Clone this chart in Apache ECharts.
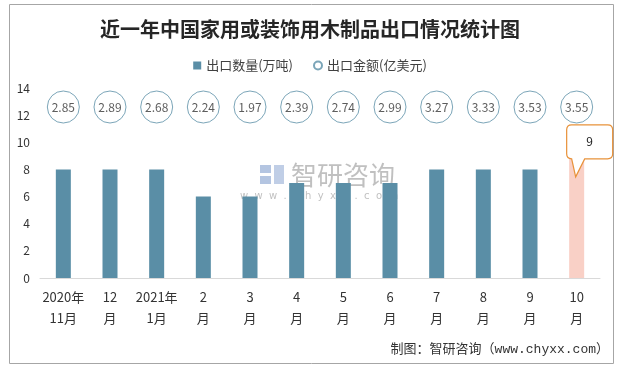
<!DOCTYPE html>
<html>
<head>
<meta charset="utf-8">
<script src="https://cdn.jsdelivr.net/npm/echarts@6/dist/echarts.min.js"></script>
<style>html,body{margin:0;padding:0;background:#fff;}#c{width:620px;height:369px;}</style>
</head>
<body>
<div id="c"></div>
<script>
var months = ['2020年\n11月','12\n月','2021年\n1月','2\n月','3\n月','4\n月','5\n月','6\n月','7\n月','8\n月','9\n月','10\n月'];
var quantity = [8, 8, 8, 6, 6, 7, 7, 7, 8, 8, 8, 9];
var amount = [2.85, 2.89, 2.68, 2.24, 1.97, 2.39, 2.74, 2.99, 3.27, 3.33, 3.53, 3.55];
var yTicks = [0, 2, 4, 6, 8, 10, 12, 14];
var amountRow = 12.6;

var chart = echarts.init(document.getElementById('c'));
var barData = quantity.map(function (v, i) {
  if (i === quantity.length - 1) {
    return { value: v, itemStyle: { color: '#f9d0c6' } };
  }
  return v;
});
var scatterData = amount.map(function (v, i) { return [months[i], amountRow, v]; });

chart.setOption({
  animation: false,
  backgroundColor: '#fff',
  title: {
    text: '近一年中国家用或装饰用木制品出口情况统计图',
    left: 'center',
    top: 14,
    textStyle: { fontFamily: 'Noto Sans CJK SC', fontSize: 20, fontWeight: 'bold', color: '#262626' }
  },
  legend: {
    top: 54,
    left: 'center',
    itemWidth: 8,
    itemHeight: 8,
    itemGap: 20,
    textStyle: { fontFamily: 'Noto Sans CJK SC', fontSize: 13, color: '#404040' },
    data: [{ name: '出口数量(万吨)', icon: 'rect' }, { name: '出口金额(亿美元)', icon: 'circle' }]
  },
  grid: { left: 40, right: 20, top: 88, bottom: 91, containLabel: false },
  xAxis: {
    type: 'category',
    data: months,
    axisLine: { lineStyle: { color: '#d9d9d9', width: 1 } },
    axisTick: { show: false },
    axisLabel: { fontFamily: 'Noto Sans CJK SC', fontSize: 13, color: '#333', lineHeight: 21, margin: 9, interval: 0 }
  },
  yAxis: {
    type: 'value',
    min: yTicks[0],
    max: yTicks[yTicks.length - 1],
    interval: 2,
    axisLine: { show: false },
    axisTick: { show: false },
    splitLine: { show: false },
    axisLabel: { fontFamily: 'Noto Sans CJK SC', fontSize: 12, color: '#333', margin: 10 }
  },
  series: [
    {
      name: '出口数量(万吨)',
      type: 'bar',
      barWidth: 15,
      itemStyle: { color: '#5a8ea6' },
      data: barData,
      markPoint: {
        symbol: 'path://M5,0 L41,0 Q46,0 46,5 L46,29 Q46,34 41,34 L18,34 L9,52 L5,34 Q0,34 0,29 L0,5 Q0,0 5,0 Z',
        symbolSize: [46, 52],
        symbolOffset: [13, -5],
        itemStyle: { color: '#fff', borderColor: '#e8923a', borderWidth: 1.3 },
        label: {
          show: true,
          position: 'inside',
          offset: [0, -9],
          color: '#222',
          fontFamily: 'Noto Sans CJK SC',
          fontSize: 12,
          formatter: function (p) { return String(p.value); }
        },
        data: [{ coord: [months[11], quantity[11]], value: quantity[11] }]
      }
    },
    {
      name: '出口金额(亿美元)',
      type: 'scatter',
      symbol: 'circle',
      symbolSize: 32,
      itemStyle: { color: '#fff', borderColor: '#5a8ea6', borderWidth: 1 },
      label: {
        show: true,
        position: 'inside',
        color: '#333',
        fontFamily: 'Noto Sans CJK SC',
        fontSize: 12,
        formatter: function (p) { return p.value[2].toFixed(2); }
      },
      data: scatterData,
      z: 3
    }
  ],
  graphic: [
    {
      type: 'rect',
      shape: { x: 9.5, y: 4.5, width: 604, height: 359 },
      style: { fill: 'none', stroke: '#a6a6a6', lineWidth: 1 },
      silent: true,
      z: 0
    },
    {
      type: 'group',
      left: 240,
      top: 162,
      silent: true,
      z: 100,
      children: [
        { type: 'rect', shape: { x: 0, y: 4, width: 11, height: 8 }, style: { fill: 'rgba(130,158,205,0.6)' } },
        { type: 'rect', shape: { x: 0, y: 15, width: 11, height: 8 }, style: { fill: 'rgba(130,158,205,0.6)' } },
        { type: 'rect', shape: { x: 14, y: 4, width: 10, height: 19 }, style: { fill: 'rgba(130,158,205,0.5)' } },
        { type: 'text', x: 31, y: 1, style: { text: '智研咨询', fontFamily: 'Noto Sans CJK SC', fontSize: 26, fill: 'rgba(140,140,140,0.55)' } },
        { type: 'text', x: -20, y: 30, style: { text: 'w  w  w  .  c  h  y  x  x  .  c  o  m', fontFamily: 'DejaVu Sans', fontSize: 10, fill: 'rgba(140,140,140,0.55)' } }
      ]
    },
    {
      type: 'text',
      right: 11,
      top: 343,
      silent: true,
      style: { text: '制图：智研咨询（www.chyxx.com）', fontFamily: 'Liberation Mono, Noto Sans CJK SC', fontSize: 13, fill: '#333' }
    }
  ]
});
</script>
</body>
</html>
